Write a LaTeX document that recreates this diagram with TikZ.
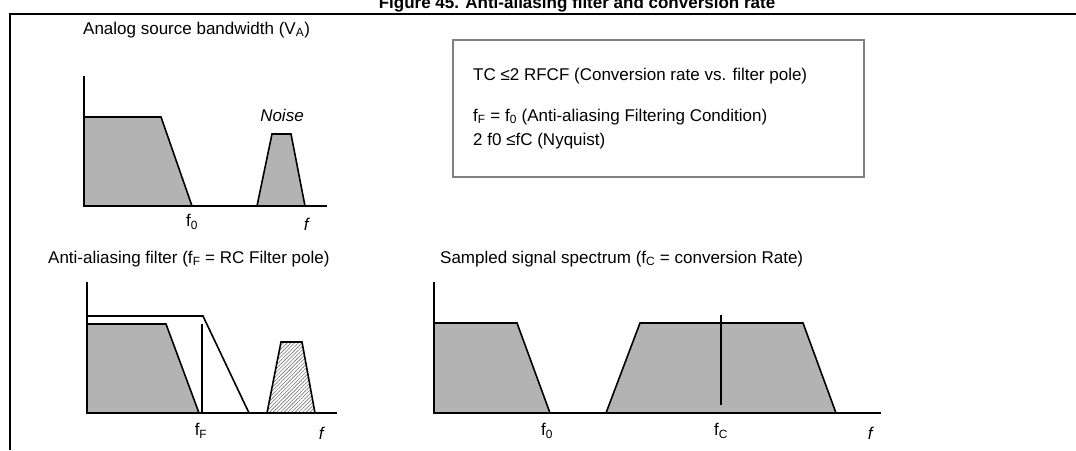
\documentclass[tikz,border=0pt]{standalone}
\usepackage{fontspec}
\setmainfont{Liberation Sans}
\usetikzlibrary{patterns.meta}
\definecolor{bandgray}{RGB}{179,179,179}
\definecolor{boxgray}{RGB}{128,128,128}

\tikzset{
  axis/.style={line width=2.6pt},
  band/.style={draw=black, line width=1.6pt, fill=bandgray},
  hatched/.style={draw=black, line width=1.6pt, pattern={Lines[angle=45,distance=2.6pt,line width=0.6pt]}, pattern color=black!55},
  txt/.style={font=\fontsize{17}{20}\selectfont, inner sep=0pt},
}

\begin{document}
\begin{tikzpicture}[x=1pt, y=-1pt]
  \useasboundingbox (0,0) rectangle (1076,450);

  % title and frame
  \node[txt, font=\fontsize{17}{20}\selectfont\bfseries, anchor=base] (title) at (577,8) {Figure 45. Anti-aliasing filter and conversion rate};
  \draw[line width=2.2pt] (1076,14) -- (10,14) -- (10,450);

  % analog source bandwidth
  \node[txt, anchor=west] (va) at (83,30) {Analog source bandwidth (V\textsubscript{A})};
  \draw[band] (84,117) -- (161,117) -- (192,206) -- (84,206) -- cycle;
  \draw[band] (257,206) -- (272,134) -- (291,134) -- (305,206) -- cycle;
  \node[txt, font=\fontsize{17}{20}\selectfont\itshape] (noise) at (282,115) {Noise};
  \draw[axis] (84,76) -- (84,206) -- (327,206);
  \node[txt] (f0a) at (192,222) {f\textsubscript{0}};
  \node[txt] (fa) at (307,224) {\textit{f}};

  % conditions
  \draw[boxgray, line width=2.6pt] (453,40) rectangle (864,177);
  \node[txt, anchor=west] (cond1) at (473,76) {TC ≤2 RFCF (Conversion rate vs. filter pole)};
  \node[txt, anchor=west] (cond2) at (473,117) {f\textsubscript{F} = f\textsubscript{0} (Anti-aliasing Filtering Condition)};
  \node[txt, anchor=west] (cond3) at (473,141) {2 f0 ≤fC (Nyquist)};

  % anti-aliasing filter
  \node[txt, anchor=west] (aaf) at (48,259) {Anti-aliasing filter (f\textsubscript{F} = RC Filter pole)};
  \draw[band] (87,324) -- (166,324) -- (199,413) -- (87,413) -- cycle;
  \draw[line width=1.6pt] (87,316) -- (203,316) -- (249,413);
  \draw[line width=1.6pt] (202,324) -- (202,413);
  \draw[hatched] (267,413) -- (281,342) -- (302,342) -- (315,413) -- cycle;
  \draw[axis] (87,282) -- (87,413) -- (337,413);
  \node[txt] (ff) at (201,431) {f\textsubscript{F}};
  \node[txt] (fb) at (322,433) {\textit{f}};

  % sampled signal spectrum
  \node[txt, anchor=west] (sss) at (440,259) {Sampled signal spectrum (f\textsubscript{C} = conversion Rate)};
  \draw[band] (434,323) -- (517,323) -- (550,413) -- (434,413) -- cycle;
  \draw[band] (606,413) -- (640,323) -- (803,323) -- (836,413) -- cycle;
  \draw[line width=1.2pt] (721,315) -- (721,405);
  \draw[axis] (434,282) -- (434,413) -- (881,413);
  \node[txt] (f0c) at (547,431) {f\textsubscript{0}};
  \node[txt] (fc) at (721,431) {f\textsubscript{C}};
  \node[txt] (fcc) at (871,433) {\textit{f}};
\end{tikzpicture}
\end{document}
